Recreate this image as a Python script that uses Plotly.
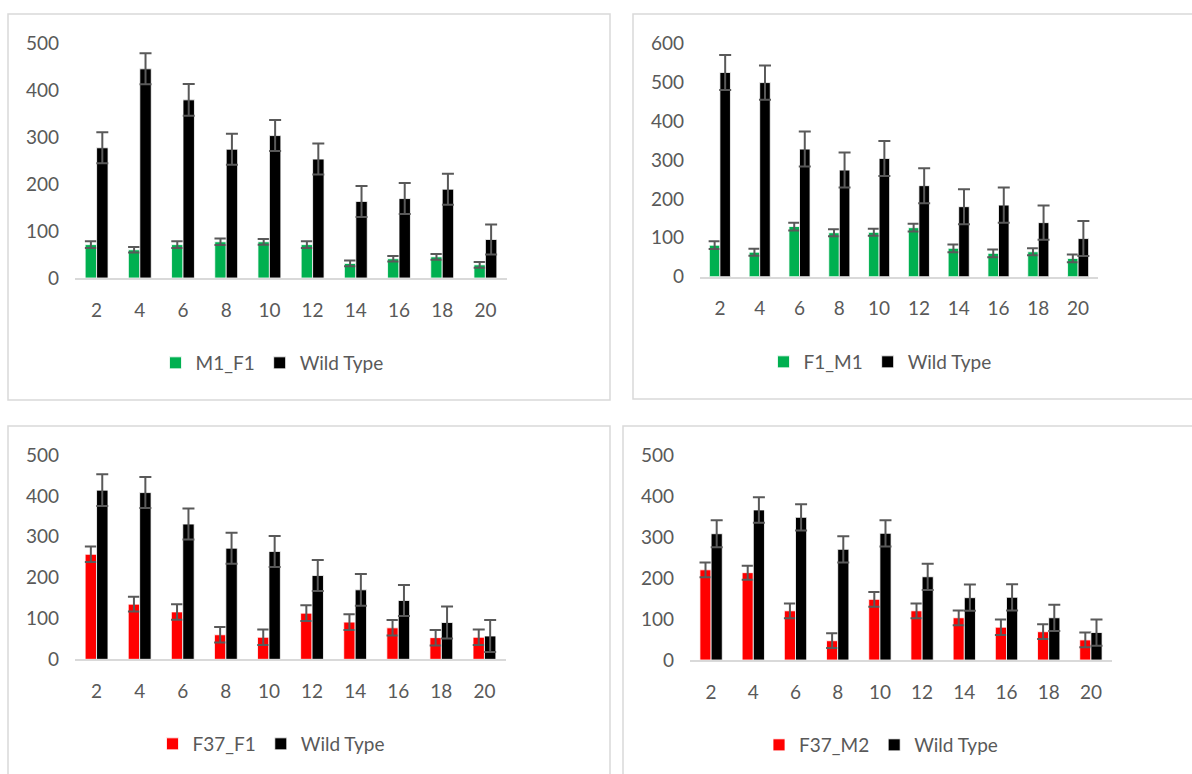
import plotly.graph_objects as go

# Days on the x axis
days = ["2", "4", "6", "8", "10", "12", "14", "16", "18", "20"]

# Panel A: M1_F1 vs Wild Type
m1f1_vals = [71, 60, 71, 77, 77, 71, 31, 41, 45, 28]
m1f1_err = [7, 6, 7, 7, 6, 7, 6, 6, 6, 6]
wt_a_vals = [277, 445, 379, 274, 303, 253, 163, 169, 189, 82]
wt_a_err = [33, 33, 34, 33, 33, 33, 33, 33, 33, 32]

# Panel B: F1_M1 vs Wild Type
f1m1_vals = [81, 63, 129, 113, 114, 126, 73, 60, 64, 47]
f1m1_err = [10, 9, 10, 9, 9, 10, 10, 10, 9, 10]
wt_b_vals = [525, 499, 328, 274, 304, 234, 180, 184, 139, 98]
wt_b_err = [45, 44, 45, 45, 45, 45, 45, 45, 44, 45]

# Panel C: F37_F1 vs Wild Type
f37f1_vals = [257, 135, 116, 60, 54, 113, 91, 77, 53, 54]
f37f1_err = [19, 18, 19, 19, 19, 19, 19, 19, 19, 19]
wt_c_vals = [414, 408, 331, 272, 264, 205, 170, 144, 90, 57]
wt_c_err = [39, 38, 38, 38, 38, 38, 39, 38, 39, 39]

# Panel D: F37_M2 vs Wild Type
f37m2_vals = [220, 213, 120, 47, 148, 120, 103, 80, 69, 49]
f37m2_err = [18, 17, 18, 18, 18, 18, 18, 19, 18, 18]
wt_d_vals = [308, 366, 348, 270, 309, 203, 152, 153, 103, 67]
wt_d_err = [33, 31, 32, 32, 32, 32, 32, 32, 32, 32]

GREEN = "#00B050"
RED = "#FF0000"
BLACK = "#000000"
ERR = "#595959"
FONT = "Lato, Carlito, 'Open Sans', sans-serif"
W, H = 1192, 774

panels = [
    # (name, values, errors, colour, wt values, wt errors, ymax, dtick, x px, y px, legend center px)
    ("M1_F1", m1f1_vals, m1f1_err, GREEN, wt_a_vals, wt_a_err, 500, 100, (75, 507), (278, 43), (272, 363)),
    ("F1_M1", f1m1_vals, f1m1_err, GREEN, wt_b_vals, wt_b_err, 600, 100, (700, 1098), (276.7, 43.3), (880, 362)),
    ("F37_F1", f37f1_vals, f37f1_err, RED, wt_c_vals, wt_c_err, 500, 100, (75, 506), (659.3, 455), (271, 744)),
    ("F37_M2", f37m2_vals, f37m2_err, RED, wt_d_vals, wt_d_err, 500, 100, (690, 1112), (660, 455), (881, 745)),
]

fig = go.Figure()
layout = {}

for i, (name, vals, errs, col, wvals, werrs, ymax, dt, xpx, ypx, lg) in enumerate(panels):
    k = "" if i == 0 else str(i + 1)
    legend_id = "legend" + k
    common = dict(
        x=days,
        xaxis="x" + k,
        yaxis="y" + k,
        legend=legend_id,
        marker_line=dict(color="white", width=0.8),
        hoverinfo="skip",
    )
    fig.add_trace(go.Bar(
        y=vals, name=name, marker_color=col,
        error_y=dict(type="data", array=errs, color=ERR, thickness=2, width=6),
        **common,
    ))
    fig.add_trace(go.Bar(
        y=wvals, name="Wild Type", marker_color=BLACK,
        error_y=dict(type="data", array=werrs, color=ERR, thickness=2, width=6),
        **common,
    ))

    layout["xaxis" + k] = dict(
        domain=[xpx[0] / W, xpx[1] / W],
        anchor="y" + k,
        type="category",
        automargin=False,
        showline=True, linecolor="#d9d9d9", linewidth=1.5,
        showgrid=False, zeroline=False, ticks="",
        tickfont=dict(family=FONT, size=19, color="#595959"),
        ticklabelstandoff=14,
    )
    layout["yaxis" + k] = dict(
        domain=[1 - ypx[0] / H, 1 - ypx[1] / H],
        anchor="x" + k,
        automargin=False,
        range=[0, ymax], dtick=dt,
        showline=False, showgrid=False, zeroline=False, ticks="",
        tickfont=dict(family=FONT, size=19, color="#595959"),
        ticklabelstandoff=15,
    )
    layout[legend_id] = dict(
        orientation="h",
        xref="container", yref="container",
        x=lg[0] / W, y=1 - lg[1] / H,
        xanchor="center", yanchor="middle",
        font=dict(family=FONT, size=19, color="#595959"),
        bgcolor="rgba(0,0,0,0)",
        itemwidth=30,
        tracegroupgap=0,
    )

# Light chart-area frames around each panel
frames = [(8, 14, 610, 400), (633, 14, 1200, 399), (8, 426, 610, 790), (623, 426, 1200, 790)]
shapes = []
for x0, y0, x1, y1 in frames:
    shapes.append(dict(
        type="rect", xref="paper", yref="paper",
        x0=x0 / W, x1=x1 / W, y0=1 - y1 / H, y1=1 - y0 / H,
        line=dict(color="#d9d9d9", width=1.5), fillcolor="rgba(0,0,0,0)",
        layer="below",
    ))

fig.update_layout(
    width=W, height=H,
    margin=dict(l=0, r=0, t=0, b=0, pad=0, autoexpand=False),
    paper_bgcolor="white", plot_bgcolor="white",
    barmode="group", bargap=0.47, bargroupgap=0,
    showlegend=True,
    shapes=shapes,
    font=dict(family=FONT, color="#595959"),
    **layout,
)

fig.write_html("out.html")
